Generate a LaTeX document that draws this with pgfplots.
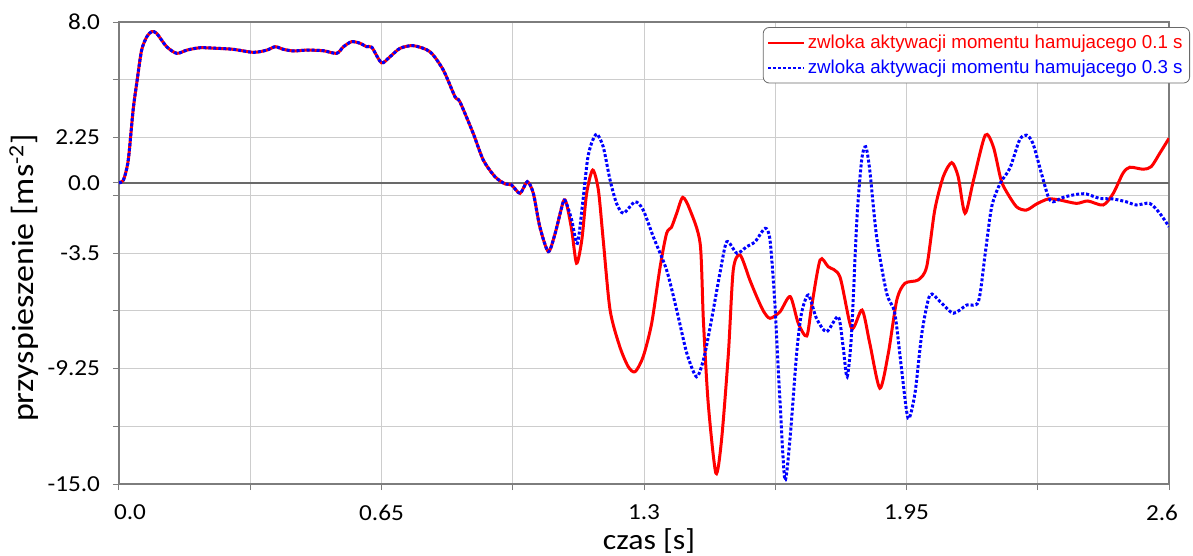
\documentclass[border=0pt]{standalone}
\usepackage{fontspec}
\setmainfont{Carlito}[FakeStretch=1.1]
\newfontfamily\legendfont{Liberation Sans}
\usepackage{pgfplots}
\pgfplotsset{compat=1.18}

\definecolor{gridgray}{RGB}{205,205,205}
\definecolor{axisgray}{RGB}{125,125,125}
\definecolor{zerogray}{RGB}{105,105,105}

% wspolny przebieg obu symulacji (do ok. 1.11 s)
\def\common{(0,0) (0.011,0.13) (0.023,1.13) (0.035,3.62) (0.045,5.11) (0.056,6.6) (0.069,7.27) (0.081,7.52) (0.093,7.44) (0.118,6.77) (0.143,6.44) (0.168,6.6) (0.201,6.72) (0.242,6.69) (0.283,6.64) (0.333,6.49) (0.366,6.6) (0.387,6.77) (0.407,6.64) (0.432,6.56) (0.465,6.6) (0.506,6.57) (0.539,6.44) (0.556,6.77) (0.576,7.02) (0.597,6.94) (0.613,6.77) (0.626,6.74) (0.650,5.97) (0.671,6.27) (0.696,6.69) (0.729,6.82) (0.770,6.52) (0.803,5.61) (0.832,4.28) (0.844,4.03) (0.877,2.46) (0.902,1.13) (0.931,0.30) (0.956,-0.06) (0.972,-0.11) (0.993,-0.53) (1.011,0.05) (1.026,-0.53) (1.042,-2.19) (1.063,-3.43) (1.080,-2.52) (1.100,-0.95) (1.108,-1.03)}

\begin{document}
\begin{tikzpicture}
\begin{axis}[
  name=ax,
  scale only axis,
  width=525bp, height=231bp,
  xmin=0, xmax=2.6,
  ymin=-15, ymax=8,
  xtick={0,0.325,0.65,0.975,1.3,1.625,1.95,2.275,2.6},
  xticklabels={\hspace*{11bp}0.0,,0.65,,1.3,,1.95,,2.6\hspace*{7bp}},
  ytick={-15,-12.125,-9.25,-6.375,-3.5,-0.625,2.25,5.125,8},
  yticklabels={-15.0,,-9.25,,-3.5,,2.25,,8.0},
  extra y ticks={0},
  extra y tick labels={0.0},
  extra y tick style={ymajorgrids=true, major grid style={draw=zerogray, line width=0.9bp}},
  tick pos=left,
  tick align=outside,
  major tick length=3bp,
  tick style={draw=axisgray, line width=0.5bp},
  axis line style={draw=axisgray, line width=0.6bp},
  grid=major,
  major grid style={draw=gridgray, line width=0.5bp},
  ticklabel style={font=\fontsize{11.5}{13}\selectfont},
  yticklabel style={xshift=-3bp},
  xticklabel style={yshift=-4bp},
  xlabel={czas [s]},
  ylabel={przyspieszenie [ms\textsuperscript{-2}]},
  xlabel style={font=\fontsize{14.5}{16}\selectfont, at={(axis description cs:0.5,0)}, anchor=center, yshift=-28.5bp, xshift=2.5bp},
  ylabel style={font=\fontsize{15.5}{17}\selectfont, at={(axis description cs:-0.0905,0.446)}, anchor=center},
  legend style={at={(axis description cs:1.02,0.989)}, anchor=north east,
    draw=zerogray, rounded corners=3bp, fill=white,
    font=\legendfont\fontsize{9.4}{11}\selectfont,
    inner xsep=2bp, inner ysep=2bp, row sep=1.2bp,
    nodes={inner sep=1.5bp}},
  legend cell align=left,
  legend image code/.code={\draw[#1, line width=0.8bp] (0bp,0bp) -- (18bp,0bp);},
]
\addplot[red, line width=1.5bp, smooth, tension=0.45] coordinates {
\common
(1.121,-2.35) (1.133,-4.01) (1.146,-2.85) (1.158,-0.53) (1.173,0.63) (1.187,-0.36) (1.199,-2.85) (1.216,-6.34) (1.240,-8.16) (1.261,-9.16) (1.278,-9.41) (1.298,-8.66) (1.319,-7.0) (1.340,-4.18) (1.356,-2.52) (1.368,-2.22) (1.381,-1.52) (1.396,-0.73) (1.414,-1.36) (1.439,-3.02) (1.447,-6.83) (1.459,-10.98) (1.478,-14.46) (1.492,-12.81) (1.509,-8.49) (1.521,-4.35) (1.538,-3.6) (1.562,-4.84) (1.579,-5.67) (1.596,-6.4) (1.612,-6.75) (1.637,-6.42) (1.662,-5.67) (1.682,-7.0) (1.703,-7.63) (1.715,-6.17) (1.736,-3.85) (1.756,-4.18) (1.785,-4.68) (1.814,-7.25) (1.840,-6.34) (1.859,-7.99) (1.884,-10.23) (1.905,-8.49) (1.926,-5.84) (1.946,-5.01) (1.979,-4.84) (2.0,-4.18) (2.020,-1.36) (2.041,0.30) (2.062,1.0) (2.078,0.30) (2.095,-1.52) (2.116,0.13) (2.145,2.37) (2.165,1.79) (2.182,0.30) (2.192,-0.25) (2.222,-1.19) (2.247,-1.36) (2.272,-1.06) (2.301,-0.81) (2.329,-0.86) (2.371,-1.03) (2.399,-0.91) (2.437,-1.11) (2.462,-0.53) (2.486,0.47) (2.503,0.77) (2.536,0.67) (2.556,0.80) (2.577,1.46) (2.6,2.21)
};
\addlegendentry{\textcolor{red}{zwloka aktywacji momentu hamujacego 0.1 s}}
\addplot[blue, line width=1.5bp, dash pattern=on 1.5bp off 1bp, smooth, tension=0.45] coordinates {
\common
(1.121,-1.86) (1.135,-3.02) (1.148,-1.03) (1.160,1.13) (1.170,1.96) (1.183,2.42) (1.199,1.79) (1.216,0.13) (1.232,-1.03) (1.249,-1.52) (1.278,-0.95) (1.298,-1.36) (1.323,-2.69) (1.356,-4.35) (1.381,-6.34) (1.406,-8.49) (1.430,-9.66) (1.447,-8.83) (1.464,-7.17) (1.488,-4.51) (1.505,-2.94) (1.530,-3.51) (1.554,-3.19) (1.575,-2.94) (1.600,-2.27) (1.612,-2.85) (1.624,-6.0) (1.637,-10.98) (1.649,-14.8) (1.662,-12.64) (1.678,-8.49) (1.690,-6.5) (1.707,-5.59) (1.727,-6.75) (1.752,-7.42) (1.781,-6.67) (1.793,-8.16) (1.803,-9.66) (1.814,-7.5) (1.827,-1.86) (1.839,1.13) (1.849,1.79) (1.859,0.63) (1.876,-2.69) (1.901,-5.51) (1.921,-6.5) (1.938,-9.32) (1.954,-11.73) (1.971,-10.48) (1.988,-7.5) (2.008,-5.59) (2.033,-5.92) (2.066,-6.5) (2.099,-6.09) (2.128,-5.92) (2.145,-3.51) (2.161,-1.19) (2.182,-0.03) (2.206,0.72) (2.230,2.13) (2.247,2.37) (2.263,1.96) (2.284,0.47) (2.301,-0.7) (2.313,-0.95) (2.338,-0.73) (2.371,-0.58) (2.395,-0.56) (2.428,-0.78) (2.461,-0.81) (2.494,-0.95) (2.519,-1.11) (2.552,-1.03) (2.577,-1.52) (2.6,-2.19)
};
\addlegendentry{\textcolor{blue}{zwloka aktywacji momentu hamujacego 0.3 s}}
\end{axis}
\pgfresetboundingbox
\path[use as bounding box] ([xshift=-59.5bp,yshift=-36bp]ax.south west) rectangle ([xshift=12bp,yshift=11bp]ax.north east);
\end{tikzpicture}
\end{document}
